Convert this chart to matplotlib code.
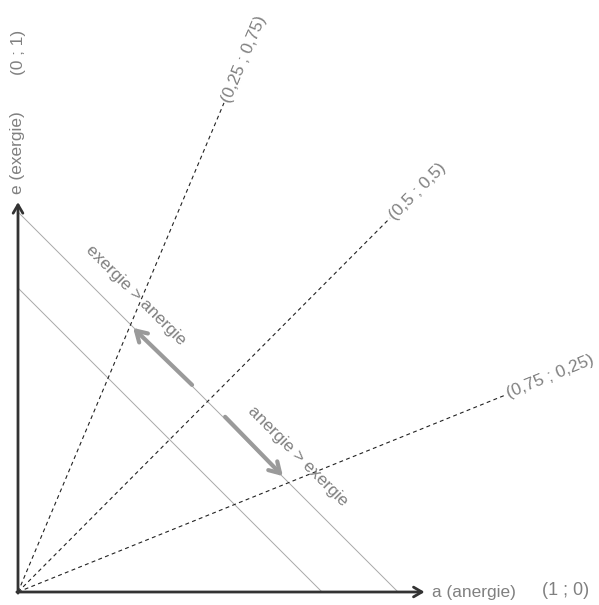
import matplotlib
matplotlib.use("Agg")
import matplotlib.pyplot as plt
import numpy as np

plt.rcParams['font.family'] = ['Liberation Sans', 'DejaVu Sans']

# --- data (units: a = anergie, e = exergie) ---
ray_labels = ["(0,25 ; 0,75)", "(0,5 ; 0,5)", "(0,75 ; 0,25)"]
ray_end_a = [0.542, 0.979, 1.282]
ray_end_e = [1.287, 0.984, 0.518]
iso_levels = [1.0, 0.8]            # a + e = const lines
arrow_tail_a = [0.458, 0.545]
arrow_tail_e = [0.545, 0.461]
arrow_tip_a = [0.303, 0.697]
arrow_tip_e = [0.695, 0.305]
diag_texts = ["exergie > anergie", "anergie > exergie"]
diag_text_a = [0.31, 0.737]
diag_text_e = [0.78, 0.358]
axis_a_end = 1.07
axis_e_end = 1.026

W, H, DPI = 599, 605, 100
ox, oy, s = 18, 592, 380.0

fig = plt.figure(figsize=(W / DPI, H / DPI), dpi=DPI)
ax = fig.add_axes([0, 0, 1, 1])
ax.set_xlim(-ox / s, (W - ox) / s)
ax.set_ylim(-(H - oy) / s, oy / s)
ax.set_aspect('equal')
ax.axis('off')

grey = '#808080'
fs = 12.4

# iso lines
for lv in iso_levels:
    ax.plot([0, lv], [lv, 0], color='#a8a8a8', lw=0.7, zorder=1)

# rays
for la, le, lab in zip(ray_end_a, ray_end_e, ray_labels):
    ax.plot([0, la], [0, le], color='#222222', lw=0.8, ls=(0, (3.5, 3)), zorder=2)
    ang = np.degrees(np.arctan2(le, la))
    ax.text(la + 0.005, le + 0.002, lab, rotation=ang, rotation_mode='anchor',
            ha='left', va='center', color=grey, fontsize=fs)

# axes arrows
ax.annotate('', xy=(axis_a_end, 0), xytext=(-0.003, 0),
            arrowprops=dict(arrowstyle='->,head_length=0.6,head_width=0.35',
                            color='#333333', lw=2, shrinkA=0, shrinkB=0), zorder=3)
ax.annotate('', xy=(0, axis_e_end), xytext=(0, -0.003),
            arrowprops=dict(arrowstyle='->,head_length=0.6,head_width=0.35',
                            color='#333333', lw=2, shrinkA=0, shrinkB=0), zorder=3)

ax.text(axis_a_end + 0.02, 0, "a (anergie)", ha='left', va='center',
        color=grey, fontsize=fs)
ax.text(1.38, 0.005, "(1 ; 0)", ha='left', va='center', color=grey, fontsize=13)
ax.text(0, axis_e_end + 0.022, "e (exergie)", rotation=90, ha='center',
        va='bottom', color=grey, fontsize=fs)
ax.text(0, 1.42, "(0 ; 1)", rotation=90, ha='center', va='center',
        color=grey, fontsize=fs)

# grey arrows
for ta, te, pa, pe in zip(arrow_tail_a, arrow_tail_e, arrow_tip_a, arrow_tip_e):
    ax.annotate('', xy=(pa, pe), xytext=(ta, te),
                arrowprops=dict(arrowstyle='->,head_length=0.75,head_width=0.45',
                                color='#9a9a9a', lw=3, shrinkA=0, shrinkB=0),
                zorder=4)

for t, a, e in zip(diag_texts, diag_text_a, diag_text_e):
    ax.text(a, e, t, rotation=-45, rotation_mode='anchor', ha='center',
            va='center', color=grey, fontsize=fs)

fig.savefig('out.png', dpi=DPI)
